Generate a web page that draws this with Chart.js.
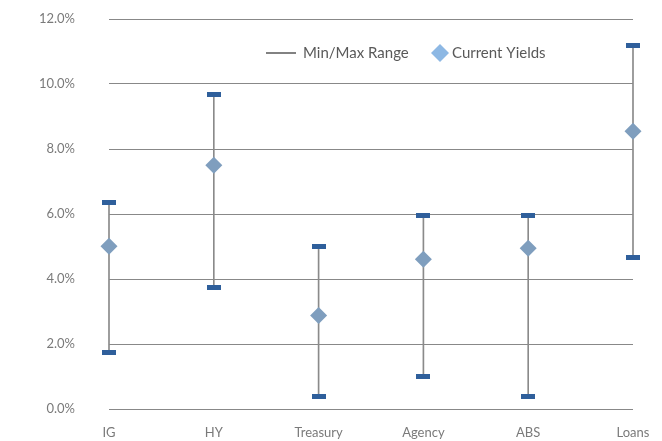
<!DOCTYPE html>
<html>
<head>
<meta charset="utf-8">
<script src="https://cdn.jsdelivr.net/npm/chart.js@4/dist/chart.umd.min.js"></script>
<style>
  html, body { margin: 0; padding: 0; background: #fff; overflow: hidden; }
</style>
</head>
<body>
<canvas id="yieldChart" width="662" height="441"></canvas>
<script>
// Data
var sectors = ['IG', 'HY', 'Treasury', 'Agency', 'ABS', 'Loans'];
var minYields = [1.75, 3.75, 0.39, 1.0, 0.39, 4.67];
var maxYields = [6.34, 9.67, 5.01, 5.94, 5.94, 11.18];
var currentYields = [5.01, 7.5, 2.88, 4.61, 4.95, 8.55];
var yTicks = [0, 2, 4, 6, 8, 10, 12];

var fontFamily = 'Lato, "Open Sans", sans-serif';

// small flat dash used for the min / max markers
function makeDash(w, h, color) {
    var c = document.createElement('canvas');
    c.width = w;
    c.height = h;
    var g = c.getContext('2d');
    g.fillStyle = color;
    g.fillRect(0, 0, w, h);
    return c;
}
var dash = makeDash(14, 5, '#2f5f9b');

// Legend drawn inside the plot area, like the original
var insideLegend = {
    id: 'insideLegend',
    afterDraw: function(chart) {
        var ctx = chart.ctx;
        var y = 53;
        ctx.save();
        ctx.font = '15px ' + fontFamily;
        ctx.fillStyle = '#595959';
        ctx.textBaseline = 'middle';

        // range line
        ctx.strokeStyle = '#595959';
        ctx.lineWidth = 1.5;
        ctx.beginPath();
        ctx.moveTo(266, y);
        ctx.lineTo(296, y);
        ctx.stroke();
        ctx.fillText(chart.data.datasets[0].label, 303, y);

        // diamond
        ctx.fillStyle = '#8db8e4';
        ctx.beginPath();
        ctx.moveTo(440, y - 9);
        ctx.lineTo(449, y);
        ctx.lineTo(440, y + 9);
        ctx.lineTo(431, y);
        ctx.closePath();
        ctx.fill();
        ctx.fillStyle = '#595959';
        ctx.fillText(chart.data.datasets[3].label, 452, y);
        ctx.restore();
    }
};

var ctx = document.getElementById('yieldChart').getContext('2d');
var yieldChart = new Chart(ctx, {
    type: 'bar',
    data: {
        labels: sectors,
        datasets: [{
            label: 'Min/Max Range',
            data: minYields.map(function(m, i) { return [m, maxYields[i]]; }),
            backgroundColor: '#8a8a8a',
            barThickness: 1,
            clip: false,
            order: 3
        }, {
            type: 'line',
            label: 'Max',
            data: maxYields,
            showLine: false,
            pointStyle: dash,
            pointRadius: 7,
            clip: false,
            order: 2
        }, {
            type: 'line',
            label: 'Min',
            data: minYields,
            showLine: false,
            pointStyle: dash,
            pointRadius: 7,
            clip: false,
            order: 2
        }, {
            type: 'line',
            label: 'Current Yields',
            data: currentYields,
            showLine: false,
            pointStyle: 'rectRot',
            pointRadius: 8.5,
            backgroundColor: '#7f9ebe',
            borderColor: '#7f9ebe',
            borderWidth: 0,
            clip: false,
            order: 1
        }]
    },
    options: {
        responsive: false,
        animation: false,
        layout: {
            autoPadding: false,
            padding: { top: 19, right: 29, left: 0, bottom: 0 }
        },
        plugins: {
            legend: { display: false },
            tooltip: { enabled: false }
        },
        scales: {
            x: {
                offset: false,
                grid: { display: false, drawTicks: false },
                border: { display: false },
                ticks: {
                    color: '#7a7a7a',
                    padding: 16,
                    maxRotation: 0,
                    font: { family: fontFamily, size: 13 }
                },
                afterFit: function(s) {
                    s.height = 32;
                    s.paddingLeft = 0;
                    s.paddingRight = 0;
                }
            },
            y: {
                min: 0,
                max: 12,
                afterBuildTicks: function(s) {
                    s.ticks = yTicks.map(function(v) { return { value: v }; });
                },
                grid: { color: '#888888', lineWidth: 1, drawTicks: false },
                border: { display: false },
                ticks: {
                    color: '#7a7a7a',
                    padding: 34,
                    font: { family: fontFamily, size: 13 },
                    callback: function(v) { return v.toFixed(1) + '%'; }
                },
                afterFit: function(s) {
                    s.width = 109;
                    // the label gap should only push labels sideways
                    s.paddingTop = 0;
                    s.paddingBottom = 0;
                }
            }
        }
    },
    plugins: [insideLegend]
});
</script>
</body>
</html>
